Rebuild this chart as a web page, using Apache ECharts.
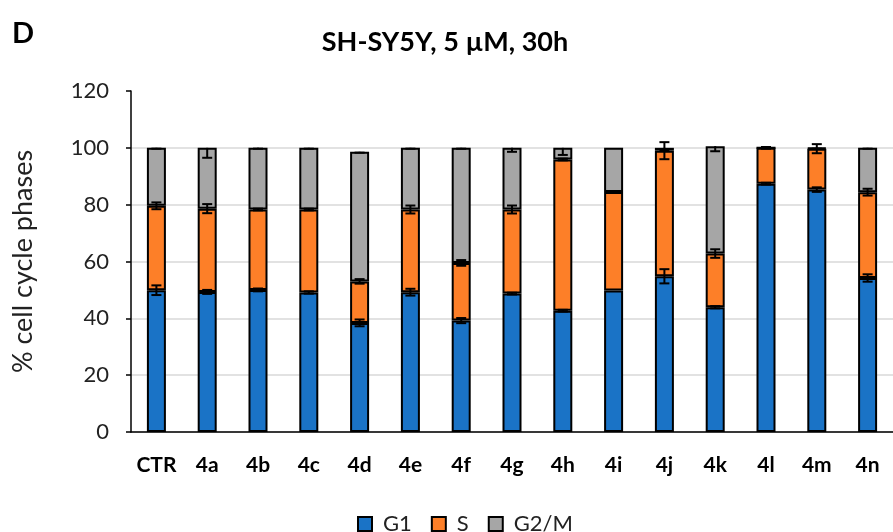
<!DOCTYPE html>
<html>
<head>
<meta charset="utf-8">
<script src="https://cdn.jsdelivr.net/npm/echarts@6/dist/echarts.min.js"></script>
<style>
  html, body { margin: 0; padding: 0; background: #fff; }
  #chart { width: 893px; height: 532px; }
</style>
</head>
<body>
<div id="chart"></div>
<script>
// Cell cycle phase distribution (%), SH-SY5Y cells, 5 µM, 30 h
const categories = ['CTR', '4a', '4b', '4c', '4d', '4e', '4f', '4g', '4h', '4i', '4j', '4k', '4l', '4m', '4n'];
const g1  = [49.9, 49.3, 50.0, 49.1, 38.4, 49.2, 39.2, 48.7, 42.7, 49.8, 54.8, 43.9, 87.4, 85.3, 54.2];
const s   = [29.7, 29.3, 28.3, 29.2, 14.6, 29.1, 20.3, 29.6, 53.2, 34.7, 44.2, 18.9, 12.6, 14.4, 30.2];
const g2m = [20.4, 21.4, 21.7, 21.7, 45.6, 21.7, 40.5, 21.7,  4.1, 15.5,  1.0, 37.8,  0.0,  0.3, 15.6];

// Standard deviations (G1 and S symmetric, G2/M drawn downward only)
const g1Err  = [1.7, 0.7, 0.5, 0.4, 1.2, 1.2, 0.9, 0.3, 0.3, 0.0, 2.5, 0.4, 0.3, 0.8, 1.3];
const sErr   = [1.2, 1.6, 0.3, 0.3, 0.8, 1.4, 1.0, 1.4, 0.3, 0.0, 3.0, 1.5, 0.3, 1.6, 1.2];
const g2mErr = [0.3, 3.5, 0.3, 0.3, 0.3, 0.3, 0.3, 1.4, 2.5, 0.0, 0.8, 1.8, 0.0, 0.3, 0.3];

const yTicks = { min: 0, max: 120, interval: 20 };

const colors = { g1: '#1a73c6', s: '#fd7f28', g2m: '#a6a6a6' };
const FONT = 'Lato, "Open Sans", sans-serif';

// error bar points at the top of each stacked segment
const errData = [];
categories.forEach((c, i) => {
  const t1 = g1[i];
  const t2 = t1 + s[i];
  const t3 = t2 + g2m[i];
  if (g1Err[i] > 0) errData.push([i, t1, g1Err[i], g1Err[i]]);
  if (sErr[i] > 0) errData.push([i, t2, sErr[i], sErr[i]]);
  if (g2mErr[i] > 0) errData.push([i, t3, 0, g2mErr[i]]);
});

function renderErr(params, api) {
  const x = api.value(0);
  const y = api.value(1);
  const up = api.value(2);
  const down = api.value(3);
  const pTop = api.coord([x, y + up]);
  const pBot = api.coord([x, y - down]);
  const hw = 5;
  const st = { stroke: '#000', lineWidth: 2 };
  const children = [
    { type: 'line', shape: { x1: pTop[0], y1: pTop[1], x2: pBot[0], y2: pBot[1] }, style: st },
    { type: 'line', shape: { x1: pBot[0] - hw, y1: pBot[1], x2: pBot[0] + hw, y2: pBot[1] }, style: st }
  ];
  if (up > 0) {
    children.push({ type: 'line', shape: { x1: pTop[0] - hw, y1: pTop[1], x2: pTop[0] + hw, y2: pTop[1] }, style: st });
  }
  return { type: 'group', children };
}

const barStyle = (color) => ({ color, borderColor: '#000', borderWidth: 2 });

const chart = echarts.init(document.getElementById('chart'), null, { renderer: 'canvas' });
chart.setOption({
  animation: false,
  backgroundColor: '#fff',
  title: [
    { text: 'D', left: 7, top: 14, textStyle: { fontFamily: FONT, fontWeight: 'bold', fontSize: 29, color: '#000' } },
    { text: 'SH-SY5Y, 5 µM, 30h', left: 440, top: 24, textAlign: 'center',
      textStyle: { fontFamily: FONT, fontWeight: 'bold', fontSize: 27, color: '#000' } }
  ],
  legend: {
    top: 508,
    left: 352,
    itemWidth: 14,
    itemHeight: 14,
    itemGap: 19,
    icon: 'rect',
    textStyle: { fontFamily: FONT, fontSize: 22, color: '#222', padding: [0, 0, 0, 6] },
    data: ['G1', 'S', 'G2/M']
  },
  grid: { left: 131, top: 91, width: 774, height: 341, containLabel: false },
  xAxis: {
    type: 'category',
    data: categories,
    axisLine: { lineStyle: { color: '#000', width: 1.5 } },
    axisTick: { alignWithLabel: true, length: 5, lineStyle: { color: '#000', width: 1.5 } },
    axisLabel: { fontFamily: FONT, fontWeight: 'bold', fontSize: 21, color: '#000', margin: 23, interval: 0 }
  },
  yAxis: {
    type: 'value',
    min: yTicks.min,
    max: yTicks.max,
    interval: yTicks.interval,
    name: '% cell cycle phases',
    nameLocation: 'middle',
    nameGap: 94,
    nameTextStyle: { fontFamily: FONT, fontSize: 27, color: '#222' },
    axisLine: { show: true, lineStyle: { color: '#000', width: 1.5 } },
    axisTick: { show: true, length: 5, lineStyle: { color: '#000', width: 1.5 } },
    axisLabel: { fontFamily: FONT, fontSize: 22, color: '#222', margin: 22 },
    splitLine: { show: true, showMaxLine: false, lineStyle: { color: '#d9d9d9', width: 1.5 } }
  },
  series: [
    { name: 'G1', type: 'bar', stack: 'phase', data: g1, barWidth: 19, itemStyle: barStyle(colors.g1) },
    { name: 'S', type: 'bar', stack: 'phase', data: s, barWidth: 19, itemStyle: barStyle(colors.s) },
    { name: 'G2/M', type: 'bar', stack: 'phase', data: g2m, barWidth: 19, itemStyle: barStyle(colors.g2m) },
    { name: 'err', type: 'custom', renderItem: renderErr, data: errData, z: 10, silent: true,
      encode: { x: 0, y: 1 } }
  ]
});
</script>
</body>
</html>
